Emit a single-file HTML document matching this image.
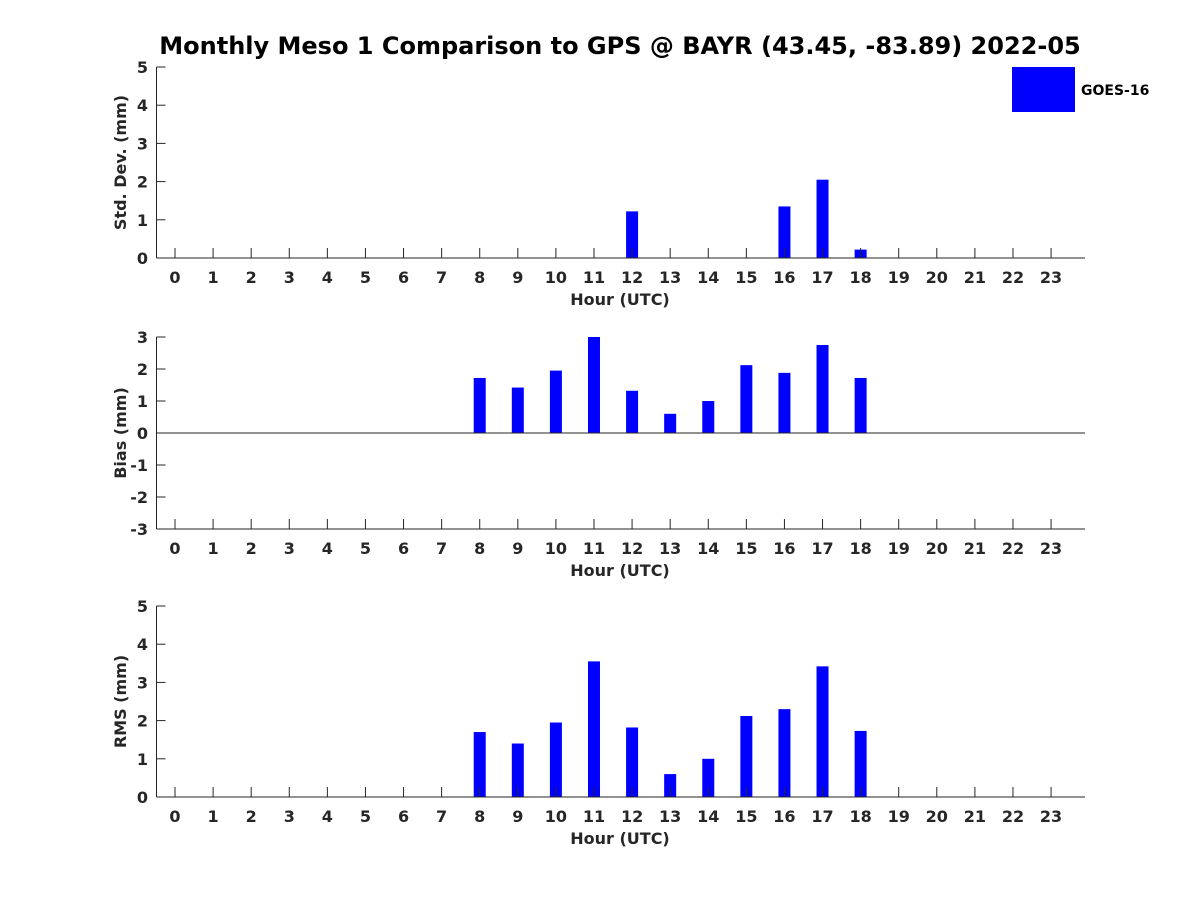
<!DOCTYPE html>
<html><head><meta charset="utf-8"><style>body{margin:0;background:#fff}svg{display:block}text{font-family:"DejaVu Sans","Liberation Sans",sans-serif;font-weight:bold;fill:#262626}</style></head>
<body>
<svg id="c" width="1200" height="900">
<text x="620" y="54" text-anchor="middle" font-size="24" style="fill:#000">Monthly Meso 1 Comparison to GPS @ BAYR (43.45, -83.89) 2022-05</text>
<rect x="1012" y="67" width="63" height="45" fill="#0000ff"/>
<text x="1081" y="95" font-size="14" style="fill:#000">GOES-16</text>
</svg>
<script>
const hours = [0,1,2,3,4,5,6,7,8,9,10,11,12,13,14,15,16,17,18,19,20,21,22,23];
const stdHours = [12,16,17,18];
const stdValues = [1.22,1.35,2.05,0.22];
const biasHours = [8,9,10,11,12,13,14,15,16,17,18];
const biasValues = [1.72,1.42,1.95,3.0,1.32,0.6,1.0,2.12,1.88,2.75,1.72];
const rmsHours = [8,9,10,11,12,13,14,15,16,17,18];
const rmsValues = [1.7,1.4,1.95,3.55,1.82,0.6,1.0,2.12,2.3,3.42,1.73];
const stdTicks = [0,1,2,3,4,5];
const biasTicks = [-3,-2,-1,0,1,2,3];
const rmsTicks = [0,1,2,3,4,5];

const svg = document.getElementById('c');
const NS = 'http://www.w3.org/2000/svg';
function mk(tag, attrs, parent){const e=document.createElementNS(NS,tag);for(const k in attrs)e.setAttribute(k,attrs[k]);(parent||svg).appendChild(e);return e;}
const X0=156.5, X1=1085;
const xs = h => 175 + h*38.09;

function panel(name, top, bottom, ymin, ymax, ticks, hs, vals, ylabel, zeroLine){
  const g = mk('g',{});
  
  
  const ys = v => bottom - (v-ymin)/(ymax-ymin)*(bottom-top);
  hs.forEach((h,i)=>{
    const y0=ys(0), y1=ys(vals[i]);
    const r = mk('rect',{x:xs(h)-6,y:Math.min(y0,y1),width:12,height:Math.abs(y0-y1),fill:'#0000ff'},g);
    
    
  });
  mk('line',{x1:X0,y1:top,x2:X0,y2:bottom,stroke:'#262626','stroke-width':1},g);
  mk('line',{x1:X0,y1:bottom,x2:X1,y2:bottom,stroke:'#262626','stroke-width':1},g);
  if(zeroLine) mk('line',{x1:X0,y1:ys(0),x2:X1,y2:ys(0),stroke:'#262626','stroke-width':1},g);
  ticks.forEach(t=>{
    const y=ys(t);
    mk('line',{x1:X0,y1:y,x2:X0+9,y2:y,stroke:'#262626'},g);
    const tx=mk('text',{x:148,y:y+6,'text-anchor':'end','font-size':16},g);tx.textContent=t;
  });
  hours.forEach(h=>{
    mk('line',{x1:xs(h),y1:bottom,x2:xs(h),y2:bottom-10,stroke:'#262626'},g);
    const tx=mk('text',{x:xs(h),y:bottom+25,'text-anchor':'middle','font-size':16},g);tx.textContent=h;
  });
  const xl=mk('text',{x:620,y:bottom+47,'text-anchor':'middle','font-size':16},g);xl.textContent='Hour (UTC)';
  
  
  const cy=(top+bottom)/2;
  const yl=mk('text',{x:0,y:0,'text-anchor':'middle','font-size':16,transform:`translate(126,${cy}) rotate(-90)`},g);yl.textContent=ylabel;
  
  
}
panel('std',67,258,0,5,stdTicks,stdHours,stdValues,'Std. Dev. (mm)',false);
panel('bias',337,529,-3,3,biasTicks,biasHours,biasValues,'Bias (mm)',true);
panel('rms',606,797,0,5,rmsTicks,rmsHours,rmsValues,'RMS (mm)',false);
</script>
</body></html>
